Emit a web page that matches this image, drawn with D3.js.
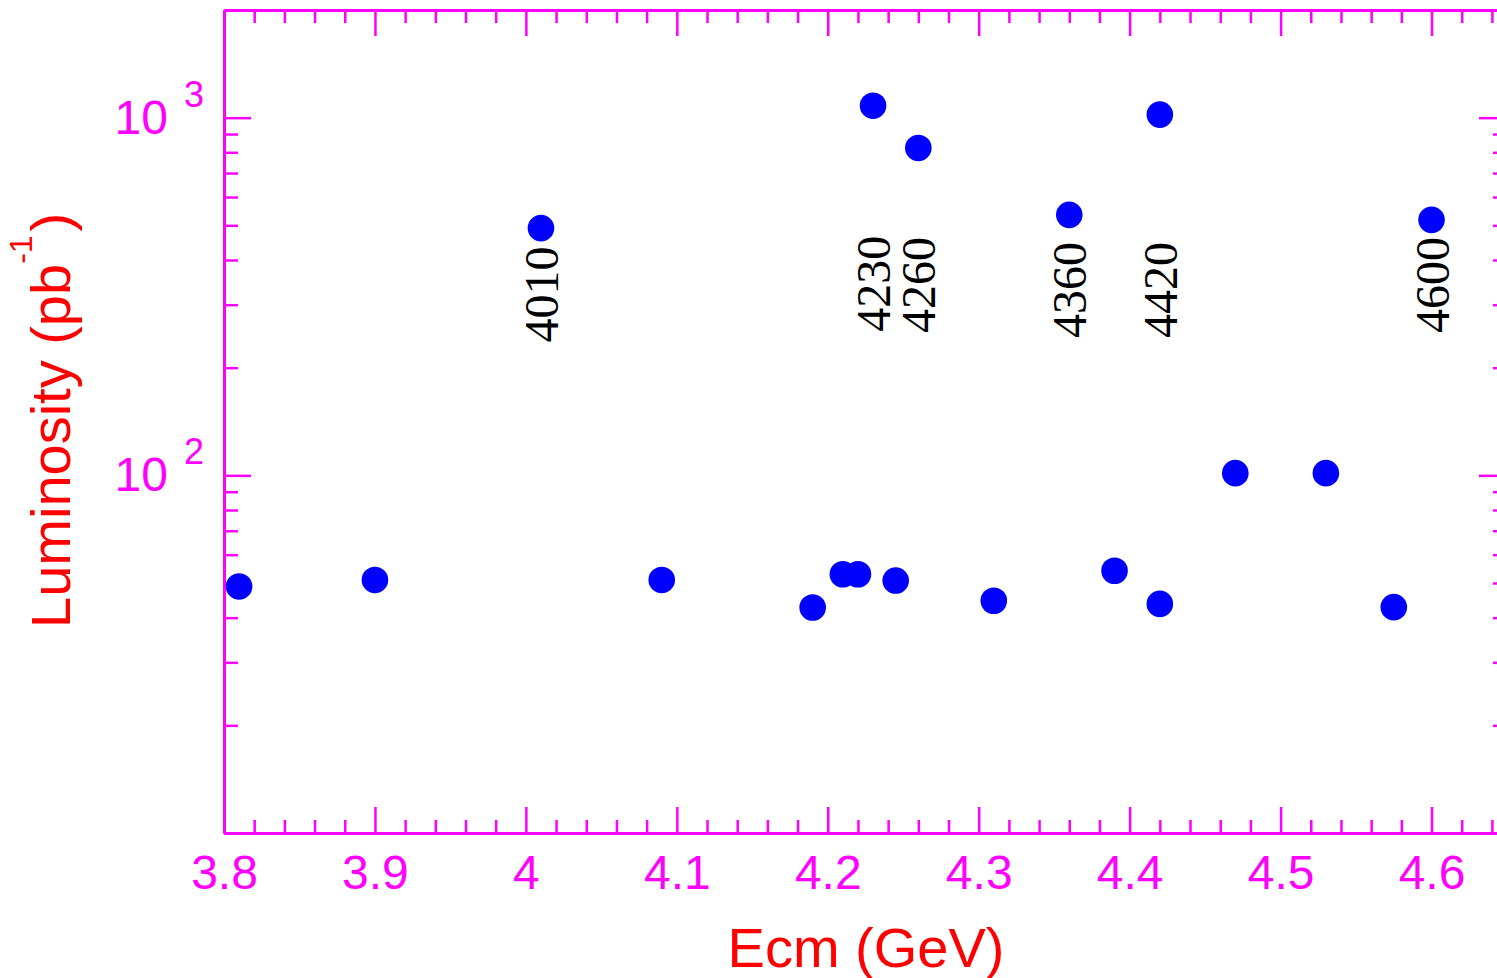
<!DOCTYPE html>
<html>
<head>
<meta charset="utf-8">
<script src="https://cdn.jsdelivr.net/npm/d3@7"></script>
<style>
  html, body { margin: 0; padding: 0; background: #fff; }
  svg { display: block; }
</style>
</head>
<body>
<div id="chart"></div>
<script>
// run points: centre-of-mass energy (GeV) and integrated luminosity (pb^-1)
const energies = [3.81, 3.90, 4.01, 4.09, 4.19, 4.21, 4.22, 4.23, 4.245, 4.26,
  4.31, 4.36, 4.39, 4.42, 4.42, 4.47, 4.53, 4.575, 4.60];
const lumis = [48.9, 51, 491, 51, 42.7, 52.9, 52.9, 1080, 50.8, 823,
  44.6, 535, 54.1, 1020, 43.7, 101.4, 101.4, 42.8, 518];

// annotations for the big samples
const labelNames = ['4010', '4230', '4260', '4360', '4420', '4600'];
const labelEnergies = [4.01, 4.23, 4.26, 4.36, 4.42, 4.60];
const labelLumis = [235, 252, 250, 242, 242, 250];

// ticks
const xTicks = [3.8, 3.9, 4, 4.1, 4.2, 4.3, 4.4, 4.5, 4.6];
const yTicks = [100, 1000];
const yTickExp = ['2', '3'];
const yMinor = [20, 30, 40, 50, 60, 70, 80, 90, 200, 300, 400, 500, 600, 700, 800, 900];

const width = 1497;
const height = 978;
const magenta = '#ff00ff';

const svg = d3.select('#chart').append('svg')
  .attr('width', width)
  .attr('height', height);

const x = d3.scaleLinear().domain([3.8, 4.65]).range([224, 1507]);
const y = d3.scaleLog().domain([10, 2000]).range([833, 10]);

const xMinor = d3.range(190, 233).filter(i => i % 5 !== 0).map(i => i / 50);

const styleAxis = (g) => {
  g.select('.domain').attr('stroke', magenta).attr('stroke-width', 3);
  g.selectAll('.tick line').attr('stroke', magenta).attr('stroke-width', 2.5);
  g.selectAll('.tick text')
    .attr('fill', magenta)
    .style('font-family', '"Liberation Sans", Arial, sans-serif')
    .style('font-size', '48px');
};

const [x0, x1] = x.range();
const [y0, y1] = y.range();

// bottom
svg.append('g').attr('transform', `translate(0,${y0})`)
  .call(d3.axisBottom(x).tickValues(xMinor).tickSize(-13).tickSizeOuter(0).tickFormat(''))
  .call(styleAxis);
svg.append('g').attr('transform', `translate(0,${y0})`)
  .call(d3.axisBottom(x).tickValues(xTicks).tickSize(-26).tickSizeOuter(0)
    .tickPadding(22).tickFormat(d => String(d)))
  .call(styleAxis);

// top
svg.append('g').attr('transform', `translate(0,${y1})`)
  .call(d3.axisTop(x).tickValues(xMinor).tickSize(-13).tickSizeOuter(0).tickFormat(''))
  .call(styleAxis);
svg.append('g').attr('transform', `translate(0,${y1})`)
  .call(d3.axisTop(x).tickValues(xTicks).tickSize(-26).tickSizeOuter(0).tickFormat(''))
  .call(styleAxis);

// left
svg.append('g').attr('transform', `translate(${x0},0)`)
  .call(d3.axisLeft(y).tickValues(yMinor).tickSize(-14).tickSizeOuter(0).tickFormat(''))
  .call(styleAxis);
const yMajor = svg.append('g').attr('transform', `translate(${x0},0)`)
  .call(d3.axisLeft(y).tickValues(yTicks).tickSize(-27).tickSizeOuter(0)
    .tickPadding(20).tickFormat(() => '10'))
  .call(styleAxis);

yMajor.selectAll('.tick text')
  .append('tspan')
  .attr('dx', 16)
  .attr('dy', -27)
  .style('font-size', '36px')
  .text((d, i) => yTickExp[i]);

// right
svg.append('g').attr('transform', `translate(${x1},0)`)
  .call(d3.axisRight(y).tickValues(yMinor).tickSize(-14).tickSizeOuter(0).tickFormat(''))
  .call(styleAxis);
svg.append('g').attr('transform', `translate(${x1},0)`)
  .call(d3.axisRight(y).tickValues(yTicks).tickSize(-28).tickSizeOuter(0).tickFormat(''))
  .call(styleAxis);

// titles
svg.append('text')
  .attr('x', 866)
  .attr('y', 967)
  .attr('text-anchor', 'middle')
  .attr('fill', '#ff0000')
  .style('font-family', '"Liberation Sans", Arial, sans-serif')
  .style('font-size', '56px')
  .text('Ecm (GeV)');

const ytitle = svg.append('text')
  .attr('transform', 'translate(70,628) rotate(-90)')
  .attr('fill', '#ff0000')
  .style('font-family', '"Liberation Sans", Arial, sans-serif')
  .style('font-size', '56px');
ytitle.append('tspan').text('Luminosity (pb');
ytitle.append('tspan').attr('dy', -38).style('font-size', '32px').text('-1');
ytitle.append('tspan').attr('dy', 38).attr('dx', 4).text(')');

// points
svg.append('g').selectAll('circle')
  .data(energies)
  .enter().append('circle')
    .attr('cx', d => x(d))
    .attr('cy', (d, i) => y(lumis[i]))
    .attr('r', 13.3)
    .attr('fill', '#0000ff');

// energy labels (serif)
svg.append('g')
  .attr('font-family', 'Liberation Serif')
  .attr('font-size', 48)
  .selectAll('text')
  .data(labelNames)
  .enter().append('text')
    .attr('transform', (d, i) => `translate(${x(labelEnergies[i]) + 17},${y(labelLumis[i])}) rotate(-90)`)
    .attr('fill', '#000')
    .text(d => d);
</script>
</body>
</html>
